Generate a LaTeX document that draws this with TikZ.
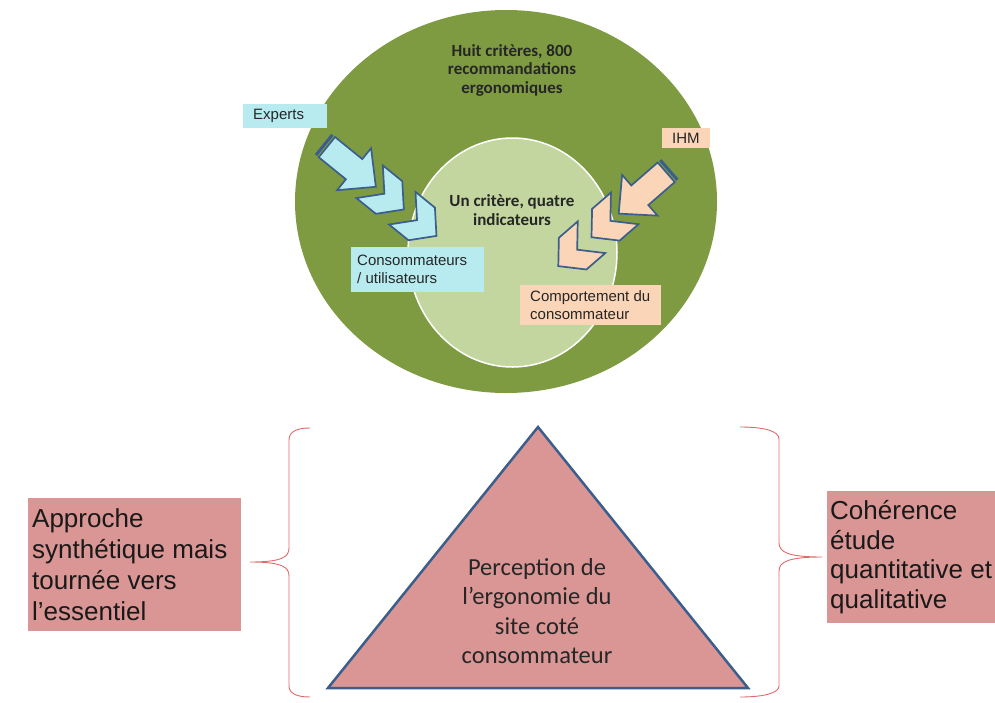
\documentclass[tikz,border=0pt]{standalone}
\usepackage{fontspec}
\setmainfont{Liberation Sans}
\newfontfamily\calib{Carlito}
\usetikzlibrary{shapes.geometric}
\definecolor{bigG}{HTML}{7E9B42}
\definecolor{innerG}{HTML}{C4D6A0}
\definecolor{cyanc}{HTML}{B8EBF0}
\definecolor{peachc}{HTML}{FAD5B7}
\definecolor{pinkc}{HTML}{D99694}
\definecolor{outl}{HTML}{3B5E8C}
\definecolor{bracec}{HTML}{E06A6A}
\tikzset{
  sarrow/.pic={code={
    \path[fill=outl] (0,-13) rectangle (3,13);
    \path[fill=#1, draw=outl, line width=1.7pt, line join=miter]
      (5,-13) -- (40,-13) -- (40,-27) -- (68,0) -- (40,27) -- (40,13) -- (5,13) -- cycle;
  }},
  chev/.pic={code={
    \path[fill=#1, draw=outl, line width=1.7pt, line join=miter]
      (0,0) -- (-19,-21) -- (-44,-21) -- (-25,0) -- (-44,21) -- (-19,21) -- cycle;
  }},
  lbl/.style={inner sep=0pt, anchor=north west},
  smalltxt/.style={font=\fontsize{15}{18}\selectfont, align=left, inner sep=0pt, anchor=west, text=black!85},
  bigtxt/.style={font=\fontsize{26}{31}\selectfont, align=left, inner sep=0pt, anchor=west, text=black!90},
  circtxt/.style={font=\calib\bfseries\fontsize{17}{18.5}\selectfont, align=center, text=black!85},
  brace/.style={draw=bracec, line width=0.9pt},
}
\begin{document}
\begin{tikzpicture}[x=1pt, y=-1pt]
\useasboundingbox (0,0) rectangle (995,702);
% circles
\node[ellipse, fill=bigG, minimum width=422pt, minimum height=383pt, inner sep=0pt] (outer) at (506,201.5) {};
\node[ellipse, fill=innerG, draw=white, line width=1.5pt, minimum width=209pt, minimum height=229pt, inner sep=0pt] (inner) at (512.5,252.5) {};
\node[circtxt] (huit) at (512,70) {Huit critères, 800\\recommandations\\ergonomiques};
\node[circtxt] (un) at (512,210) {Un critère, quatre\\indicateurs};
% cyan arrows
\begin{scope}[shift={(323,144)}, rotate=-39]
  \pic[transform shape] at (0,0) {sarrow=cyanc};
  \pic[transform shape] at (104,0) {chev=cyanc};
  \pic[transform shape] at (146,0) {chev=cyanc};
\end{scope}
% peach arrows
\begin{scope}[shift={(670,169)}, rotate=-139]
  \pic[transform shape] at (0,0) {sarrow=peachc};
  \pic[transform shape] at (104,0) {chev=peachc};
  \pic[transform shape] at (148,0) {chev=peachc};
\end{scope}
% label boxes
\node[lbl, fill=cyanc, minimum width=84pt, minimum height=24pt] (expbox) at (243,104) {};
\node[smalltxt] (exp) at ([xshift=10pt]expbox.west) {Experts};
\node[lbl, fill=peachc, minimum width=48pt, minimum height=20pt] (ihmbox) at (662,128) {};
\node[smalltxt] (ihm) at ([xshift=10pt]ihmbox.west) {IHM};
\node[lbl, fill=cyanc, minimum width=133pt, minimum height=45pt] (conbox) at (351,247) {};
\node[smalltxt] (con) at ([xshift=6pt]conbox.west) {Consommateurs\\/ utilisateurs};
\node[lbl, fill=peachc, minimum width=141pt, minimum height=40pt] (combox) at (520,285) {};
\node[smalltxt] (com) at ([xshift=10pt]combox.west) {Comportement du\\consommateur};
% triangle
\draw[fill=pinkc, draw=outl, line width=2.5pt, line join=miter] (538,427) -- (748,688) -- (328,688) -- cycle;
\node[font=\calib\fontsize{24.5}{29.5}\selectfont, align=center, text=black!85] (perc) at (537,611) {Perception de\\l’ergonomie du\\site coté\\consommateur};
% side boxes
\node[lbl, fill=pinkc, minimum width=213pt, minimum height=133pt] (lbox) at (28,498) {};
\node[bigtxt] (ltxt) at ([xshift=4pt]lbox.west) {Approche\\synthétique mais\\tournée vers\\l’essentiel};
\node[lbl, fill=pinkc, minimum width=168pt, minimum height=132pt] (rbox) at (827,491) {};
\node[bigtxt, font=\fontsize{26}{29.5}\selectfont] (rtxt) at ([xshift=3pt]rbox.west) {Cohérence\\étude\\quantitative et\\qualitative};
% braces
\draw[brace] (310,428) .. controls (296,428) and (289,432) .. (289,440) -- (289,548) .. controls (289,557) and (282,562) .. (250,562) .. controls (282,562) and (289,567) .. (289,576) -- (289,686) .. controls (289,693) and (296,697) .. (310,697);
\draw[brace] (740,427) .. controls (764,427) and (779,431) .. (779,439) -- (779,543) .. controls (779,552) and (788,557) .. (822,557) .. controls (788,557) and (779,562) .. (779,571) -- (779,686) .. controls (779,693) and (764,697) .. (740,697);
\end{tikzpicture}
\end{document}
